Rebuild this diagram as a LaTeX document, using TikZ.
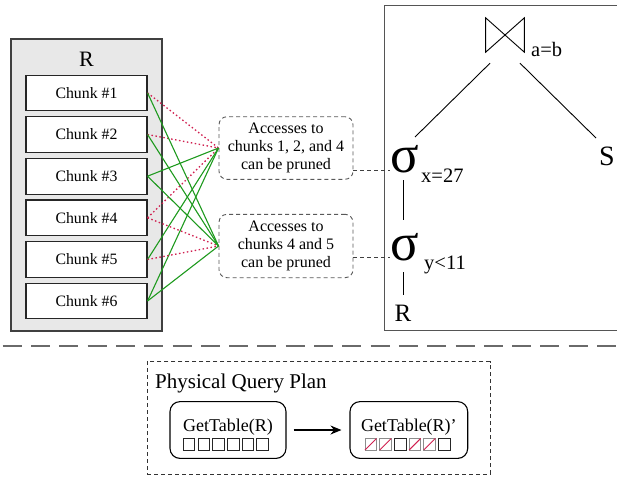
\documentclass[tikz,border=0pt]{standalone}
\usepackage{fontspec}
\setmainfont{Liberation Serif}
\usetikzlibrary{arrows.meta,calc}
\definecolor{grn}{HTML}{1E9A1E}
\definecolor{rd}{HTML}{D02050}
\definecolor{framec}{HTML}{555555}
\definecolor{sepc}{HTML}{6A6A6A}
\begin{document}
\begin{tikzpicture}[x=1pt,y=-1pt,
  rbox/.style={draw=black!75, fill=black!9, line width=1.1pt, minimum width=151pt, minimum height=292pt, inner sep=0pt},
  chunk/.style={draw=black!85, fill=white, line width=1.1pt, minimum width=121pt, minimum height=35.7pt, inner sep=0pt, font=\fontsize{15.8}{18}\selectfont},
  prune/.style={draw=black!65, dash pattern=on 4pt off 3pt, rounded corners=8pt, line width=0.9pt, minimum width=134pt, align=center, inner sep=0pt, font=\fontsize{16}{17.6}\selectfont},
  keep/.style={grn, line width=1.1pt},
  drop/.style={rd, line width=1.3pt, dash pattern=on 1.5pt off 2.5pt},
  link/.style={black!75, dash pattern=on 4pt off 3pt, line width=0.9pt},
  treeline/.style={black, line width=0.9pt},
  sigma/.style={anchor=base, inner sep=0pt, font=\fontsize{53}{53}\selectfont},
  sub/.style={anchor=base west, inner sep=0pt, font=\fontsize{20.5}{20.5}\selectfont},
  op/.style={draw=black, line width=1.1pt, rounded corners=10pt, minimum height=56.8pt, inner sep=0pt},
  optitle/.style={anchor=base, inner sep=0pt, font=\fontsize{18}{18}\selectfont},
  sq/.style={draw=black!85, line width=0.8pt},
  sqx/.style={draw=black!45, line width=0.8pt},
  slash/.style={rd, line width=0.9pt},
]
\useasboundingbox (0,0) rectangle (617,477);

% relation R with chunks
\node[rbox] (R) at (86.5,185) {};
\node[anchor=base, inner sep=0pt, font=\fontsize{22}{22}\selectfont] (Rlabel) at (86.5,66) {R};
\node[chunk] (c1) at (86.5,92.9) {Chunk \#1};
\node[chunk] (c2) at (86.5,134.5) {Chunk \#2};
\node[chunk] (c3) at (86.5,176.2) {Chunk \#3};
\node[chunk] (c4) at (86.5,217.8) {Chunk \#4};
\node[chunk] (c5) at (86.5,259.5) {Chunk \#5};
\node[chunk] (c6) at (86.5,301) {Chunk \#6};

% pruning notes
\node[prune, minimum height=62.6pt] (p1) at (286,148) {Accesses to\\chunks 1, 2, and 4\\can be pruned};
\node[prune, minimum height=63.4pt] (p2) at (286,246) {Accesses to\\chunks 4 and 5\\can be pruned};

\foreach \c in {1,2,4} \draw[drop] (c\c.east) -- (p1.west);
\foreach \c in {3,5,6} \draw[keep] (c\c.east) -- (p1.west);
\foreach \c in {4,5} \draw[drop] (c\c.east) -- (p2.west);
\foreach \c in {1,2,3,6} \draw[keep] (c\c.east) -- (p2.west);

% query tree frame
\draw[framec, line width=1pt] (618,5) -- (384.3,5) -- (384.3,330) -- (618,330);

% join
\node[minimum width=38.3pt, minimum height=34pt, inner sep=0pt] (join) at (505,35) {};
\draw[treeline] (join.north west) -- (join.south west) -- (join.north east) -- (join.south east) -- cycle;
\node[sub] (joinsub) at (531,56) {a=b};

% selections
\node[sigma] (s1) at (404.5,172.5) {σ};
\node[sub] (s1sub) at (421,182.5) {x=27};
\node[sigma] (s2) at (404.5,260) {σ};
\node[sub] (s2sub) at (424,269) {y<11};
\node[anchor=base, inner sep=0pt, font=\fontsize{28}{28}\selectfont] (S) at (607,165) {S};
\node[anchor=base, inner sep=0pt, font=\fontsize{25}{25}\selectfont] (Rt) at (403,321.7) {R};

\draw[treeline] ($(join.south)+(-15,11)$) -- ($(s1.base)+(10.5,-35.5)$);
\draw[treeline] ($(join.south)+(15,11)$) -- ($(S.base)+(-11,-27)$);
\draw[treeline] ($(s1.base)+(-1.5,7.5)$) -- ($(s2.base)+(-1.5,-40)$);
\draw[treeline] ($(s2.base)+(-1.5,12)$) -- ($(Rt.base)+(0,-26.7)$);

\draw[link] (p1.east |- s1.mid) -- (s1.mid west);
\draw[link] (p2.east |- s2.mid) -- (s2.mid west);

% separator
\draw[sepc, line width=1.8pt, dash pattern=on 19pt off 9.3pt] (2.7,345.7) -- (617,345.7);

% physical plan
\node[draw=black!80, dash pattern=on 4pt off 3pt, line width=0.9pt, minimum width=343pt, minimum height=112.3pt, inner sep=0pt] (pqp) at (318.5,417.85) {};
\node[anchor=base west, inner sep=0pt, font=\fontsize{21}{21}\selectfont] (pqpl) at (155,388.3) {Physical Query Plan};

\node[op, minimum width=116pt] (g1) at (228,430) {};
\node[optitle] (g1t) at (228,431) {GetTable(R)};
\foreach \i in {0,...,5} \draw[sq] (183.3+\i*14.7,438.5) rectangle ++(11.5,11.5);

\node[op, minimum width=117.7pt] (g2) at (408.85,430) {};
\node[optitle] (g2t) at (408.85,431) {GetTable(R)’};
\foreach \i in {0,1,3,4} {
  \draw[sqx] (365+\i*14.7,438.5) rectangle ++(11.5,11.5);
  \draw[slash] (365+\i*14.7,450) -- ++(11.5,-11.5);
}
\foreach \i in {2,5} \draw[sq] (365+\i*14.7,438.5) rectangle ++(11.5,11.5);

\draw[-{Stealth[length=11pt,width=9pt]}, line width=1.1pt, shorten <=7pt, shorten >=8pt] (g1) -- (g2);
\end{tikzpicture}
\end{document}
